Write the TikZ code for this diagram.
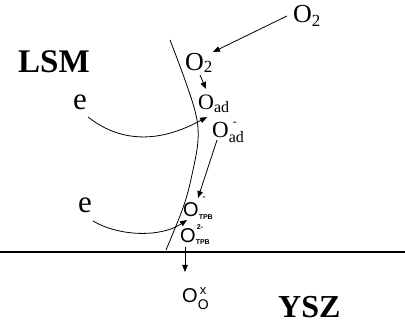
\documentclass[tikz,border=0pt]{standalone}
\usepackage{fontspec}
\setmainfont{Liberation Serif}
\newfontfamily\arialf{Liberation Sans}
\usetikzlibrary{arrows.meta}
\newcommand\fsz[1]{\fontsize{#1}{#1}\selectfont}
\begin{document}
\begin{tikzpicture}[x=1pt,y=-1pt,
  lbl/.style={inner sep=0pt,anchor=base west},
  sans/.style={lbl,font=\arialf\fsz{20}},
  big/.style={lbl,font=\fsz{33}\bfseries},
  con/.style={line width=0.8pt,-{Triangle[length=7pt,width=5.5pt]}},
  bound/.style={line width=0.8pt},
  surf/.style={line width=1.4pt}]
\useasboundingbox (0,0) rectangle (405,326);
% labels
\node[big] (lsm) at (18,73) {LSM};
\node[big,font=\fsz{32}\bfseries] (ysz) at (278,318) {YSZ};
\node[lbl,font=\fsz{31}] (e1) at (73,110) {e};
\node[lbl,font=\fsz{31}] (e2) at (78,213) {e};
% species
\node[lbl,font=\fsz{26}] (o2top) at (293,23) {O\raisebox{-4pt}{\fsz{17}2}};
\node[lbl,font=\fsz{26}] (o2s) at (185,71) {O\raisebox{-2pt}{\fsz{17}2}};
\node[lbl,font=\fsz{22}] (oad) at (198,110) {O\raisebox{-3pt}{\fsz{16}ad}};
\node[lbl,font=\fsz{23}] (oadm) at (212,138) {O\rlap{\hspace{4pt}\raisebox{12pt}{\fsz{12}-}}\raisebox{-5pt}{\fsz{16}ad}};
\node[sans] (otpbm) at (183,217) {O\rlap{\hspace{4pt}\raisebox{17pt}{\fsz{8}\bfseries -}}\raisebox{-3pt}{\fsz{7}\bfseries TPB}};
\node[sans] (otpb2) at (180,243) {O\rlap{\hspace{1pt}\raisebox{13pt}{\fsz{7}\bfseries 2-}}\raisebox{-2pt}{\fsz{7}\bfseries TPB}};
\node[sans] (oox) at (182,303) {O\rlap{\hspace{2pt}\raisebox{8pt}{\fsz{13}x}}\raisebox{-6pt}{\fsz{14}O}};
% boundary and surface
\draw[bound] plot[smooth,tension=0.6] coordinates {(170,40) (185,80) (196,115) (198,140) (193,170) (184,205) (166,250)};
\draw[surf] (0,252) -- (405,252);
% connectors
\draw[con] ([shift={(-6,-7)}]o2top.base west) -- ([shift={(28,-19)}]o2s.base west);
\draw[con] ([shift={(15,4)}]o2s.base west) -- ([shift={(8,-21)}]oad.base west);
\draw[con] ([shift={(15,7)}]e1.base west) .. controls (125,146) and (165,140) .. ([shift={(9,7)}]oad.base west);
\draw[con] ([shift={(5,2)}]oadm.base west) -- ([shift={(15,-19)}]otpbm.base west);
\draw[con] ([shift={(15,8)}]e2.base west) .. controls (118,236) and (160,238) .. ([shift={(4,3)}]otpbm.base west);
\draw[con] ([shift={(5,4)}]otpb2.base west) -- ([shift={(3,-31)}]oox.base west);
\end{tikzpicture}
\end{document}
